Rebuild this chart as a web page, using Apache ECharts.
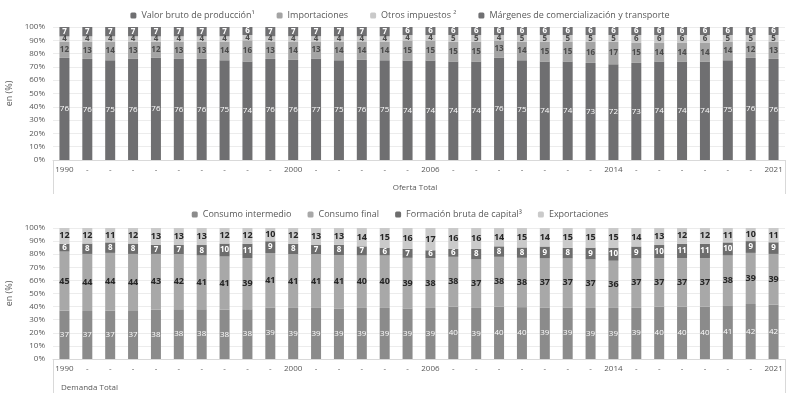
<!DOCTYPE html>
<html><head><meta charset="utf-8">
<script src="https://cdn.jsdelivr.net/npm/echarts@6/dist/echarts.min.js"></script>
<style>html,body{margin:0;padding:0;background:#fff}#c{width:800px;height:403px}</style>
</head><body><div id="c"></div>
<script>
const years = ['1990','-','-','-','-','-','-','-','-','-','2000','-','-','-','-','-','2006','-','-','-','-','-','-','-','2014','-','-','-','-','-','-','2021'];

// Oferta Total (%)
const valorBruto = [76,76,75,76,76,76,76,75,74,76,76,77,75,76,75,74,74,74,74,76,75,74,74,73,72,73,74,74,74,75,76,76];
const importaciones = [12,13,14,13,12,13,13,14,16,13,14,13,14,14,14,15,15,15,15,13,14,15,15,16,17,15,14,14,14,14,12,13];
const otrosImpuestos = [4,4,4,4,4,4,4,4,4,4,4,4,4,4,4,4,4,5,5,4,5,5,5,5,5,6,6,6,6,5,5,5];
const margenes = [7,7,7,7,7,7,7,7,6,7,7,7,7,7,7,6,6,6,6,6,6,6,6,6,6,6,6,6,6,6,6,6];

// Demanda Total (%)
const consumoIntermedio = [37,37,37,37,38,38,38,38,38,39,39,39,39,39,39,39,39,40,39,40,40,39,39,39,39,39,40,40,40,41,42,42];
const consumoFinal = [45,44,44,44,43,42,41,41,39,41,41,41,41,40,40,39,38,38,37,38,38,37,37,37,36,37,37,37,37,38,39,39];
const formacionBruta = [6,8,8,8,7,7,8,10,11,9,8,7,8,7,6,7,6,6,8,8,8,9,8,9,10,9,10,11,11,10,9,9];
const exportaciones = [12,12,11,12,13,13,13,12,12,10,12,13,13,14,15,16,17,16,16,14,15,14,15,15,15,14,13,12,12,11,10,11];

const chart = echarts.init(document.getElementById('c'));
const txt = '#595959';
const font = 'Open Sans, Liberation Sans, sans-serif';

// 100% stacked: normalise each column, keep the rounded value as label
function pct(group) {
  const totals = group[0].map((_, i) => group.reduce((s, a) => s + a[i], 0));
  return group.map(a => a.map((v, i) => ({ value: v / totals[i] * 100, raw: v })));
}
const top4 = pct([valorBruto, importaciones, otrosImpuestos, margenes]);
const bot4 = pct([consumoIntermedio, consumoFinal, formacionBruta, exportaciones]);

function bar(name, data, color, labelColor, xi, stack, bold, size) {
  return {
    name, type: 'bar', stack, data, xAxisIndex: xi, yAxisIndex: xi,
    barWidth: 10, itemStyle: { color },
    label: { show: true, position: 'inside', color: labelColor, fontSize: size || 8,
      fontWeight: bold ? 'bold' : 'normal', fontFamily: font,
      formatter: p => String(p.data.raw) }
  };
}

chart.setOption({
  animation: false,
  textStyle: { fontFamily: font },
  title: [
    { text: 'Oferta Total', left: 410, top: 179, textAlign: 'center',
      textStyle: { fontSize: 8, fontWeight: 'normal', color: txt, fontFamily: font } },
    { text: 'Demanda Total', left: 56, top: 379,
      textStyle: { fontSize: 8, fontWeight: 'normal', color: txt, fontFamily: font } }
  ],
  legend: [
    { data: ['Valor bruto de producción¹','Importaciones','Otros impuestos ²','Márgenes de comercialización y transporte'],
      top: 6, left: 'center', itemWidth: 6, itemHeight: 6, itemGap: 22,
      textStyle: { fontSize: 9, color: txt, fontFamily: font } },
    { data: ['Consumo intermedio','Consumo final','Formación bruta de capital³','Exportaciones'],
      top: 205, left: 'center', itemWidth: 6, itemHeight: 6, itemGap: 16,
      textStyle: { fontSize: 9, color: txt, fontFamily: font } }
  ],
  grid: [
    { left: 53, right: 15, top: 27, height: 133, containLabel: false, outerBoundsMode: 'none' },
    { left: 53, right: 15, top: 228, height: 131, containLabel: false, outerBoundsMode: 'none' }
  ],
  xAxis: [0, 1].map(i => ({
    type: 'category', data: years, gridIndex: i,
    axisLine: { lineStyle: { color: '#d9d9d9' } },
    axisTick: { show: false },
    axisLabel: { interval: 0, fontSize: 8, color: txt, margin: 6, fontFamily: font }
  })),
  yAxis: [0, 1].map(i => ({
    type: 'value', gridIndex: i, min: 0, max: 100, interval: 10,
    name: 'en (%)', nameLocation: 'middle', nameGap: 36,
    nameTextStyle: { fontSize: 9, color: txt, fontFamily: font },
    axisLabel: { formatter: '{value}%', fontSize: 8, color: txt, fontFamily: font },
    axisLine: { show: false }, axisTick: { show: false },
    splitLine: { lineStyle: { color: '#ececec' } }
  })),
  graphic: [
    { type: 'line', shape: { x1: 53.5, y1: 160, x2: 53.5, y2: 194 }, style: { stroke: '#d9d9d9', lineWidth: 1 } },
    { type: 'line', shape: { x1: 785.5, y1: 160, x2: 785.5, y2: 194 }, style: { stroke: '#d9d9d9', lineWidth: 1 } },
    { type: 'line', shape: { x1: 53.5, y1: 359, x2: 53.5, y2: 393 }, style: { stroke: '#d9d9d9', lineWidth: 1 } },
    { type: 'line', shape: { x1: 785.5, y1: 359, x2: 785.5, y2: 393 }, style: { stroke: '#d9d9d9', lineWidth: 1 } }
  ],
  series: [
    bar('Valor bruto de producción¹', top4[0], '#6f6f71', '#ffffff', 0, 'o', false),
    bar('Importaciones', top4[1], '#a4a4a4', '#4a4a4a', 0, 'o', true),
    bar('Otros impuestos ²', top4[2], '#c9c9c9', '#4a4a4a', 0, 'o', true),
    bar('Márgenes de comercialización y transporte', top4[3], '#707072', '#ffffff', 0, 'o', true),
    bar('Consumo intermedio', bot4[0], '#8b8b8b', '#ffffff', 1, 'd', false),
    bar('Consumo final', bot4[1], '#a8a8a8', '#262626', 1, 'd', true, 9),
    bar('Formación bruta de capital³', bot4[2], '#6d6d6d', '#ffffff', 1, 'd', true),
    bar('Exportaciones', bot4[3], '#cacaca', '#262626', 1, 'd', true, 9)
  ]
});
</script></body></html>
